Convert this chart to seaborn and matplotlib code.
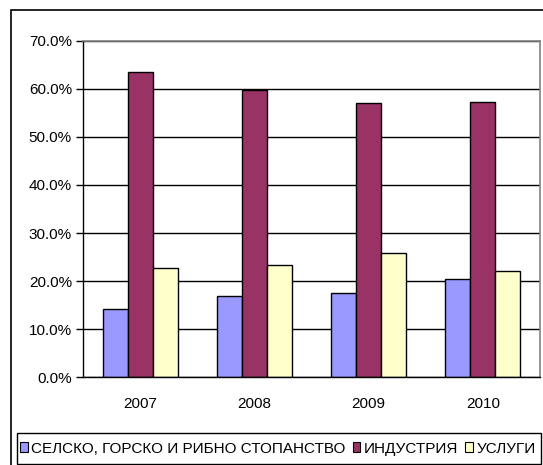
import pandas as pd
import matplotlib
matplotlib.use("Agg")
import matplotlib.pyplot as plt
import seaborn as sns
from matplotlib.patches import Rectangle
from matplotlib.ticker import FuncFormatter, FixedLocator

# data
years = ["2007", "2008", "2009", "2010"]
sectors = ["СЕЛСКО, ГОРСКО И РИБНО СТОПАНСТВО", "ИНДУСТРИЯ", "УСЛУГИ"]
agri = [14.1, 16.9, 17.5, 20.5]
industry = [63.4, 59.7, 57.0, 57.2]
services = [22.7, 23.3, 25.9, 22.2]
colors = ["#9999FF", "#993366", "#FFFFCC"]

df = pd.DataFrame({
    "year": years * 3,
    "sector": [sectors[0]] * 4 + [sectors[1]] * 4 + [sectors[2]] * 4,
    "share": agri + industry + services,
})

sns.set_style("white")
plt.rcParams["font.family"] = ["Liberation Sans", "DejaVu Sans"]
plt.rcParams["text.color"] = "black"
plt.rcParams["xtick.color"] = "black"
plt.rcParams["ytick.color"] = "black"

W, H = 543, 465
fig = plt.figure(figsize=(W / 100, H / 100), dpi=100)
ax = fig.add_axes([83 / W, 1 - 377.3 / H, (540 - 83) / W, (377.3 - 40.6) / H])

sns.barplot(data=df, x="year", y="share", hue="sector", palette=colors,
            saturation=1, width=0.655, edgecolor="black", linewidth=1,
            ax=ax, legend=False)

ax.set_ylim(0, 70)
ax.set_xlim(-0.5, 3.5)
ax.set_yticks(range(0, 71, 10))
ax.yaxis.set_major_formatter(FuncFormatter(lambda v, p: f"{v:.1f}%"))
ax.grid(axis="y", color="black", linewidth=1)
ax.set_axisbelow(True)
ax.set_xlabel("")
ax.set_ylabel("")

# category boundary ticks
ax.xaxis.set_minor_locator(FixedLocator([0.5, 1.5, 2.5, 3.5]))
ax.tick_params(axis="x", which="major", length=0, pad=14, labelsize=11)
ax.tick_params(axis="x", which="minor", length=5, width=1, color="black", direction="out")
ax.tick_params(axis="y", length=5, width=1, color="black", direction="out", labelsize=11, pad=3)
ax.tick_params(bottom=True, left=True)

for s in ["left", "bottom"]:
    ax.spines[s].set_color("black")
    ax.spines[s].set_linewidth(1)
for s in ["top", "right"]:
    ax.spines[s].set_color("#808080")
    ax.spines[s].set_linewidth(1.2)

# outer chart frame
fig.patches.append(Rectangle((11 / W, -0.05), 1.1, 1 - 10 / H + 0.05,
                             transform=fig.transFigure, fill=False,
                             edgecolor="black", linewidth=1.2))
# legend frame
fig.patches.append(Rectangle((17 / W, 1 - 464 / H), (541 - 17) / W, 31 / H,
                             transform=fig.transFigure, fill=False,
                             edgecolor="black", linewidth=1))

handles = [Rectangle((0, 0), 1, 1, facecolor=c, edgecolor="black", linewidth=0.8)
           for c in colors]
leg = fig.legend(handles, sectors, loc="center left",
                 bbox_to_anchor=(20 / W, 1 - 448.5 / H), ncol=3,
                 frameon=False, fontsize=11, handlelength=0.5, handleheight=0.55,
                 handletextpad=0.25, columnspacing=0.45, borderpad=0,
                 borderaxespad=0)

fig.savefig("out.png", dpi=100)
